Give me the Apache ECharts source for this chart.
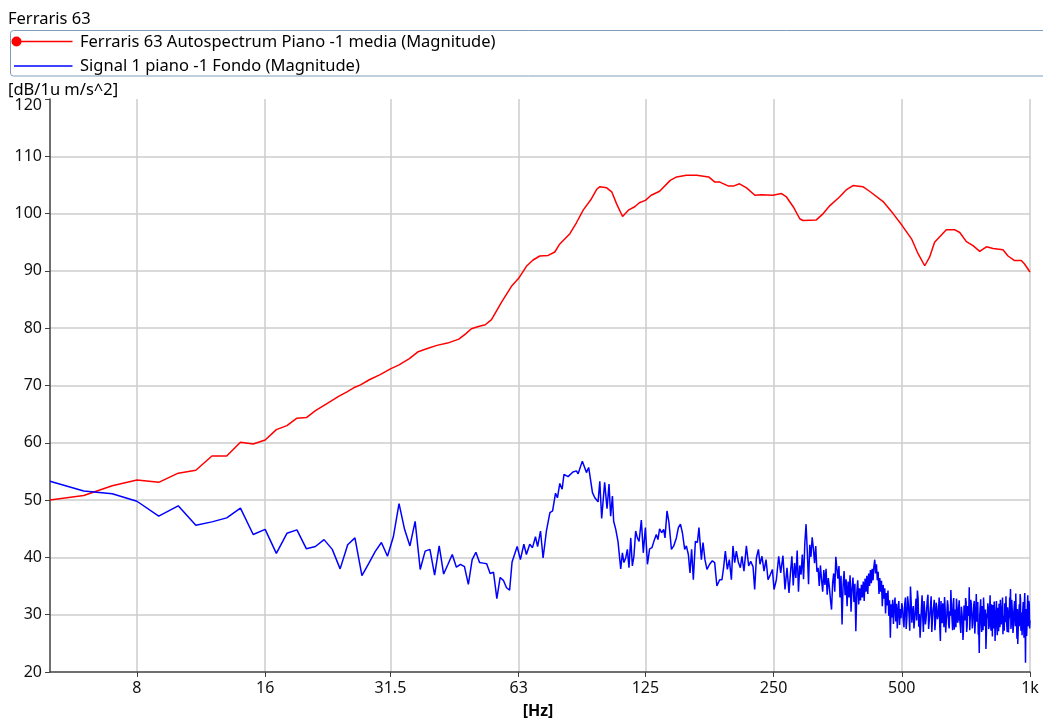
<!DOCTYPE html>
<html><head><meta charset="utf-8">
<script src="https://cdn.jsdelivr.net/npm/echarts@6/dist/echarts.min.js"></script>
<style>html,body{margin:0;padding:0;background:#fff}#c{width:1043px;height:720px}</style>
</head><body><div id="c"></div><script>
const chartTitle = 'Ferraris 63';
const seriesNames = ['Ferraris 63 Autospectrum Piano -1 media (Magnitude)', 'Signal 1 piano -1 Fondo (Magnitude)'];
const yUnit = '[dB/1u m/s^2]';
const xUnit = '[Hz]';
const xTicks = [8, 16, 31.5, 63, 125, 250, 500, 1000];
const yMin = 20, yMax = 120, yStep = 10;

// [frequency Hz, dB]
const redData = [[5,50.0],[6,50.8],[7,52.5],[8,53.5],[9,53.1],[10,54.7],[11,55.2],[12,57.7],[13,57.7],[14,60.1],[15,59.8],[16,60.5],[17,62.3],[18,63.0],[19,64.3],[20,64.4],[21,65.6],[22.3,66.8],[23.8,68.1],[24.9,68.9],[26,69.7],[26.8,70.1],[28.1,71.0],[29.8,71.9],[31.5,72.9],[33,73.6],[34.9,74.7],[36.6,75.9],[38.3,76.4],[40.5,77.0],[42.9,77.4],[45.6,78.1],[47.3,79.0],[48.8,79.9],[50.7,80.3],[52.6,80.6],[54.4,81.5],[57.4,84.5],[60.6,87.3],[63,88.7],[65.7,90.8],[68.1,91.9],[70.6,92.6],[73.9,92.7],[76.6,93.3],[78.7,94.7],[83.1,96.5],[86.1,98.4],[89.3,100.6],[93.4,102.6],[96,104.2],[97.8,104.7],[101.4,104.5],[104.2,103.8],[107,101.7],[110.5,99.5],[114,100.6],[118,101.2],[121,101.9],[125,102.3],[129,103.2],[135,103.9],[143,105.8],[148,106.4],[156,106.7],[165,106.7],[176,106.4],[182,105.5],[187,105.5],[196,104.8],[201,104.8],[208,105.2],[216,104.5],[226,103.2],[234,103.3],[249,103.2],[261,103.5],[268,102.9],[278,101.2],[288,99.1],[293,98.8],[315,98.9],[327,100.0],[339,101.4],[357,102.9],[371,104.2],[384,104.9],[405,104.7],[420,103.9],[452,102.1],[477,100.0],[500,98.0],[527,95.6],[546,93.0],[566,90.9],[581,92.4],[597,95.0],[636,97.2],[665,97.2],[684,96.7],[709,95.1],[735,94.4],[762,93.4],[790,94.2],[819,93.9],[864,93.7],[888,92.6],[920,91.8],[954,91.8],[971,91.2],[1000,89.8]];

const blueLow = [[5,53.3],[6,51.6],[7,51.1],[8,49.8],[9,47.2],[10,49.0],[11,45.6],[12,46.2],[13,46.9],[14,48.6],[15,44.0],[16,44.9],[17,40.7],[18,44.2],[19,44.8],[20,41.5],[21,41.9],[22,43.1],[23,41.4],[24,38.0],[25,42.2],[26,43.4],[27,36.8],[28,38.9],[29,41.0],[30,42.6],[31,40.2],[32,43.6],[33,49.4],[34,44.9],[35,42.0],[36,46.3],[37,37.9],[38,41.1],[39,41.4],[40,36.9],[41,42.0],[42,37.1],[43,38.8],[44,40.5],[45,38.3],[46,38.8],[47,38.4],[48,35.3],[49,39.6],[50,40.9],[51,39.1],[52,39.0],[53,38.9],[54,37.2],[55,37.4],[56,32.8],[57,36.5],[58,36.0],[59,34.7],[60,34.3]];

const bluePeak = [[60.8,39.2],[62.5,41.9],[63.6,39.6],[64.8,42.3],[65.7,40.5],[66.9,42.3],[67.9,41.7],[69.0,43.6],[69.8,41.9],[70.9,44.6],[71.9,39.9],[73.2,44.6],[74.6,47.8],[75.7,48.1],[76.9,51.2],[77.7,50.4],[78.7,52.9],[79.7,51.9],[80.5,54.5],[82.3,54.1],[84.5,54.9],[86.1,55.1],[86.9,54.6],[88.9,56.8],[89.7,56.7],[90.9,54.8],[92.0,55.7],[93.9,51.3],[95.1,50.4],[96.8,49.7],[97.7,53.3],[98.7,46.8],[100.3,53.1],[101.6,48.5],[102.7,52.8],[103.6,47.2],[104.6,50.7],[105.3,46.3],[106.5,44.9],[107.8,42.8],[109.4,38.0],[110.4,40.8],[111.3,39.1],[112.4,39.9],[113.4,41.4],[114.4,38.2],[115.5,43.4],[116.5,38.5],[117.5,40.2],[118.6,44.6],[119.7,43.4],[120.8,42.8],[122.3,46.5],[123.6,40.8],[125,45.2]];

const blueMid = [[126.4,38.8],[127.9,41.5],[129.5,41.7],[130.9,42.8],[132.6,44.0],[133.8,43.1],[135.0,45.0],[136.5,44.3],[138.0,44.9],[139.0,43.4],[140.5,48.1],[142.0,46.1],[143.9,41.4],[145.7,42.0],[147.8,43.4],[149.4,45.2],[151.1,45.8],[152.7,44.3],[154.6,41.4],[156.0,42.0],[157.7,40.5],[159.1,37.3],[160.5,41.4],[162.0,36.1],[163.8,42.8],[165.6,42.6],[167.0,45.2],[169.2,39.6],[170.7,42.6],[172.5,39.6],[174.4,37.9],[176.9,38.8],[179.5,39.4],[181.8,39.1],[184.0,35.0],[186.8,36.1],[189.1,36.1],[190.8,38.2],[192.6,41.1],[194.7,37.9],[196.8,39.6],[199.0,36.1],[200.7,42.0],[202.6,39.1],[204.4,41.1],[206.7,39.1],[208.9,38.2],[210.7,40.2],[213.0,37.6],[215.8,42.0],[218.5,38.5],[220.9,39.3],[223.7,38.4],[225.7,34.4],[227.8,39.9],[230.3,41.4],[232.3,38.8],[234.8,40.2],[237.4,37.6],[240.0,39.6],[242.6,36.1],[245.7,37.0],[248.4,37.9],[250.6,34.4],[253.8,36.1],[257.0,40.2],[259.8,37.3],[263.0,40.3],[265.9,34.4],[268.8,38.2],[271.7,33.8]];

const blueUpper = [[274,37.5],[276,40.2],[278,35.1],[280,39.0],[282,36.4],[284,41.2],[286,34.0],[288,38.6],[290,37.0],[292,40.5],[294,36.2],[296,42.5],[298,45.8],[300,41.0],[302,35.3],[304,42.2],[306,40.1],[308,43.5],[310,41.6],[312,39.0],[314,42.0],[316,37.5],[318,38.2],[320,35.0],[322,38.6],[324,36.1],[326,34.0],[328,37.8],[330,35.2],[332,38.0],[334,33.5],[336,36.4],[338,34.8],[340,32.6],[342,30.9],[344,35.5],[346,37.2],[348,34.0],[350,40.1],[352,38.0],[354,36.3],[356,38.5],[358,33.0],[360,36.8],[362,28.3],[364,35.0],[366,37.6],[368,33.4],[370,36.2],[372,31.5],[374,35.8],[376,33.0],[378,36.9],[380,30.5],[382,34.6],[384,36.5],[386,32.2],[388,35.4],[390,27.1],[392,33.8],[394,36.0],[396,31.8],[398,34.6],[400,32.5],[402,35.2],[404,33.0],[406,35.8],[408,32.4],[410,36.3],[412,34.0],[414,36.8],[416,33.6],[418,37.2],[420,35.0],[422,37.8],[424,35.5],[426,38.0],[428,36.0],[430,38.4],[432,39.6],[434,37.2],[436,38.8],[438,36.0],[440,37.5],[442,33.6],[444,36.4],[446,34.0],[448,35.9],[450,31.5],[452,35.2],[454,32.8],[456,34.6],[458,30.2],[460,33.8],[462,31.6],[464,34.2],[466,29.8],[468,32.5],[470,26.0],[472,31.8],[474,29.5],[476,32.6],[478,28.4],[480,31.4],[482,33.0],[484,28.8],[486,31.9],[488,27.6],[490,30.8],[492,32.4],[494,28.2],[496,31.0],[498,29.4],[500,32.0]];

const blueHighA = [[504,29.0],[508,31.8],[512,27.5],[516,33.2],[520,30.0],[524,34.9],[528,28.6],[532,31.5],[536,29.2],[540,32.8],[544,34.2],[548,27.9],[552,26.0],[556,31.2],[560,29.5],[564,32.4],[568,28.3],[572,31.0],[576,33.5],[580,29.0],[584,31.6],[588,27.0],[592,30.8],[596,32.6],[600,28.8],[604,31.4],[608,29.7],[612,33.0],[616,25.4],[620,30.2],[624,32.0],[628,27.8],[632,31.2],[636,29.0],[640,32.5],[644,28.4],[648,30.6],[652,34.3],[656,29.3],[660,31.8],[664,27.4],[668,30.9],[672,32.8],[676,28.6],[680,31.3],[684,29.1],[688,26.8],[692,30.4],[696,25.6],[700,31.6],[704,29.0],[708,32.2],[712,28.0],[716,30.7],[720,34.8],[724,29.6],[728,31.9],[732,27.6],[736,30.3],[740,32.4],[744,28.5],[748,33.6],[752,29.4],[756,26.5],[760,23.3],[764,30.0],[768,28.2],[772,31.5],[776,27.3],[780,30.6],[784,28.9],[788,24.0],[792,30.2],[796,32.0],[800,27.5],[804,30.8],[808,28.6],[812,31.8],[816,26.2],[820,29.7],[824,32.3],[828,25.4],[832,30.1],[836,28.0],[840,31.2],[844,27.1],[848,30.5],[852,32.6],[856,28.3],[860,30.9],[864,26.6],[868,29.8],[872,32.0],[876,28.7],[880,31.0],[884,27.0],[888,30.3],[892,29.0],[896,33.0],[900,34.5],[904,28.4],[908,31.1],[912,26.8],[916,30.2],[920,32.4],[924,28.0],[928,30.7],[932,25.8],[936,24.9],[940,29.6],[944,31.8],[948,33.6],[952,27.2],[956,30.4],[960,28.6],[964,32.2],[968,26.0],[972,33.8],[976,21.6],[980,31.0],[984,28.2],[988,33.4],[992,29.6],[996,31.8],[1000,29.0]];

const blueHighB = [[502,31.2],[506,27.8],[510,33.0],[514,29.4],[518,31.9],[522,27.2],[526,32.2],[530,30.4],[534,27.6],[538,31.0],[542,29.0],[546,32.9],[550,30.1],[554,28.4],[558,33.4],[562,27.0],[566,30.6],[570,29.2],[574,32.6],[578,27.5],[582,30.2],[586,33.2],[590,28.9],[594,31.5],[598,27.3],[602,32.1],[606,29.2],[610,31.0],[614,27.9],[618,32.4],[622,28.5],[626,30.8],[630,33.1],[634,26.9],[638,30.1],[642,31.6],[646,27.6],[650,29.8],[654,31.1],[658,27.3],[662,32.9],[666,29.5],[670,27.8],[674,31.2],[678,29.0],[682,32.5],[686,28.1],[690,31.4],[694,29.2],[698,27.4],[702,30.5],[706,32.9],[710,27.0],[714,31.5],[718,29.8],[722,27.3],[726,32.6],[730,30.0],[734,28.4],[738,31.8],[742,26.7],[746,30.5],[750,28.8],[754,32.2],[758,27.6],[762,29.9],[766,32.7],[770,27.0],[774,29.6],[778,33.0],[782,28.0],[786,30.9],[790,26.8],[794,29.4],[798,31.3],[802,28.0],[806,33.4],[810,27.2],[814,29.9],[818,31.7],[822,27.6],[826,30.3],[830,28.9],[834,32.4],[838,26.4],[842,29.8],[846,31.9],[850,27.8],[854,30.7],[858,28.4],[862,33.0],[866,29.1],[870,27.2],[874,30.8],[878,33.2],[882,28.1],[886,31.3],[890,26.9],[894,29.6],[898,31.9],[902,27.5],[906,32.6],[910,29.8],[914,27.7],[918,31.4],[922,29.2],[926,33.7],[930,28.4],[934,31.0],[938,27.1],[942,30.6],[946,28.0],[950,32.8],[954,29.3],[958,26.4],[962,30.9],[966,28.8],[970,32.0],[974,27.9],[978,30.2],[982,26.3],[986,31.5],[990,28.0],[994,32.4],[998,27.6]];

const blueData = [].concat(blueLow, bluePeak, blueMid, blueUpper, blueHighA, blueHighB)
  .sort((a, b) => a[0] - b[0]);

const FONT = '"Noto Sans", sans-serif';
const chart = echarts.init(document.getElementById('c'), null, {renderer: 'canvas'});
chart.setOption({
  animation: false,
  backgroundColor: '#ffffff',
  grid: {left: 50, right: 13, top: 99, bottom: 48, containLabel: false, outerBoundsMode: 'none'},
  xAxis: {
    type: 'log', logBase: 2, min: 5, max: 1000,
    axisLine: {show: true, lineStyle: {color: '#404040', width: 1.5}},
    axisTick: {show: true, length: 5, customValues: xTicks, lineStyle: {color: '#404040', width: 1}},
    axisLabel: {customValues: xTicks, color: '#111', fontSize: 16, fontFamily: FONT, margin: 8,
      formatter: v => (v >= 1000 ? (v / 1000) + 'k' : String(v))},
    splitLine: {show: true, lineStyle: {color: '#cccccc', width: 1.5}},
    minorTick: {show: false}, minorSplitLine: {show: false}
  },
  yAxis: {
    type: 'value', min: yMin, max: yMax, interval: yStep,
    axisLine: {show: true, lineStyle: {color: '#404040', width: 1.5}},
    axisTick: {show: true, length: 5, lineStyle: {color: '#404040', width: 1}},
    axisLabel: {color: '#111', fontSize: 16, fontFamily: FONT, margin: 8,
      formatter: v => (v === yMax ? '{top|' + v + '}' : String(v)),
      rich: {top: {padding: [12, 0, 0, 0], fontSize: 16, fontFamily: FONT, color: '#111'}}},
    splitLine: {show: true, showMinLine: false, showMaxLine: false, lineStyle: {color: '#cccccc', width: 1.5}}
  },
  series: [
    {name: seriesNames[0], type: 'line', data: redData, showSymbol: false, symbol: 'none',
     lineStyle: {color: '#ff0000', width: 1.5}, itemStyle: {color: '#ff0000'}, z: 2},
    {name: seriesNames[1], type: 'line', data: blueData, showSymbol: false, symbol: 'none',
     lineStyle: {color: '#0000ff', width: 1.5}, itemStyle: {color: '#0000ff'}, z: 3}
  ],
  graphic: [
    {type: 'text', left: 8, top: 11, style: {text: chartTitle, font: '16.5px ' + FONT, fill: '#000'}},
    {type: 'rect', shape: {x: 10.5, y: 30.5, width: 1045, height: 45.5, r: 3}, style: {fill: 'none', stroke: '#7f9db9', lineWidth: 1}},
    {type: 'line', shape: {x1: 16, y1: 41.5, x2: 72.5, y2: 41.5}, style: {stroke: '#ff0000', lineWidth: 1.5}},
    {type: 'circle', shape: {cx: 16.5, cy: 41.5, r: 5}, style: {fill: '#ff0000'}},
    {type: 'text', x: 80, y: 42, style: {text: seriesNames[0], font: '16.5px ' + FONT, fill: '#000', verticalAlign: 'middle'}},
    {type: 'line', shape: {x1: 14, y1: 66, x2: 72.5, y2: 66}, style: {stroke: '#0000ff', lineWidth: 1.5}},
    {type: 'text', x: 80, y: 66, style: {text: seriesNames[1], font: '16.5px ' + FONT, fill: '#000', verticalAlign: 'middle'}},
    {type: 'text', x: 8, y: 90, style: {text: yUnit, font: '16.5px ' + FONT, fill: '#000', verticalAlign: 'middle'}},
    {type: 'text', x: 538, y: 711, style: {text: xUnit, font: 'bold 16px ' + FONT, fill: '#000', align: 'center', verticalAlign: 'middle'}}
  ]
});
</script></body></html>
